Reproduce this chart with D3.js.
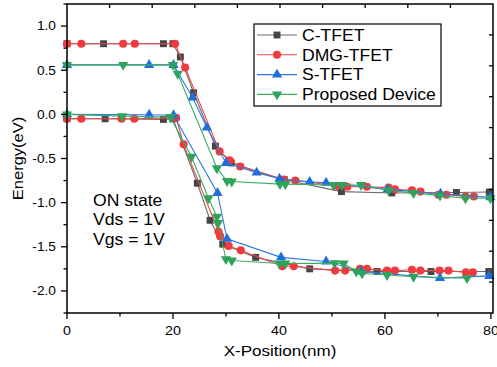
<!DOCTYPE html>
<html>
<head>
<meta charset="utf-8">
<script src="https://cdn.jsdelivr.net/npm/d3@7"></script>
<style>
  body { margin: 0; background: #fff; }
  text { font-family: "Liberation Sans", Arial, sans-serif; fill: #000; }
</style>
</head>
<body>
<script>
// band edges, [x (nm), energy (eV)]
const cTfetUpper = [[0,0.8],[6.9,0.8],[18.2,0.8],[20.0,0.8],[21.4,0.65],[23.9,0.245],[28.0,-0.36],[31.0,-0.55],[41.0,-0.74],[51.8,-0.875],[61.3,-0.89],[73.5,-0.885],[79.7,-0.88]];
const cTfetLower = [[0,-0.05],[7.2,-0.05],[18.2,-0.057],[20.0,-0.05],[24.6,-0.78],[27.0,-1.2],[29.4,-1.47],[35.6,-1.62],[45.8,-1.75],[58.5,-1.78],[68.7,-1.78],[79.6,-1.78]];

const dmgUpper = [[0,0.8],[2.7,0.8],[10.6,0.8],[12.8,0.8],[20.4,0.8],[22.3,0.53],[28.8,-0.42],[30.7,-0.52],[32.7,-0.59],[40.9,-0.74],[43.1,-0.75],[50.9,-0.81],[52.9,-0.82],[56.6,-0.82],[60.7,-0.83],[61.9,-0.85],[65.1,-0.86],[66.7,-0.875],[70.1,-0.91],[71.6,-0.91],[75.2,-0.93],[76.8,-0.93]];
const dmgLower = [[0,-0.05],[2.7,-0.05],[10.3,-0.05],[12.7,-0.05],[20.6,-0.04],[22.0,-0.34],[28.6,-1.33],[28.9,-1.38],[30.5,-1.49],[32.8,-1.54],[40.6,-1.72],[42.8,-1.72],[50.6,-1.77],[52.5,-1.77],[55.3,-1.75],[56.6,-1.75],[60.4,-1.77],[61.9,-1.77],[65.1,-1.76],[66.7,-1.77],[70.3,-1.77],[72.0,-1.77],[75.3,-1.79],[76.6,-1.79]];

const sTfetUpper = [[0,0.56],[15.5,0.56],[20.1,0.56],[23.7,0.19],[26.4,-0.15],[30.0,-0.55],[35.8,-0.66],[40.1,-0.73],[45.8,-0.765],[48.9,-0.775],[60.5,-0.85],[70.5,-0.9],[79.9,-0.94]];
const sTfetLower = [[0,0],[15.5,-0.005],[20.1,-0.01],[28.4,-0.89],[30.2,-1.41],[40.4,-1.62],[48.9,-1.667],[55.5,-1.78],[70.4,-1.855],[79.7,-1.83]];

const proposedUpper = [[0,0.56],[10.6,0.56],[20.0,0.56],[20.9,0.46],[28.3,-0.61],[30.2,-0.755],[31.1,-0.76],[40.2,-0.79],[41.2,-0.79],[50.3,-0.8],[51.9,-0.8],[55.5,-0.8],[60.7,-0.86],[65.4,-0.89],[70.4,-0.92],[75.2,-0.95],[79.9,-0.95]];
const proposedLower = [[0,0],[10.4,-0.02],[19.5,-0.03],[23.5,-0.48],[26.7,-0.95],[28.3,-1.16],[28.5,-1.23],[30.0,-1.64],[31.1,-1.656],[40.1,-1.69],[41.2,-1.69],[50.5,-1.685],[52.2,-1.69],[54.6,-1.78],[55.7,-1.8],[60.4,-1.82],[65.4,-1.84],[75.5,-1.855]];

const seriesNames = ["C-TFET", "DMG-TFET", "S-TFET", "Proposed Device"];
const xTicks = [0, 20, 40, 60, 80];
const yTicks = [1.0, 0.5, 0.0, -0.5, -1.0, -1.5, -2.0];
const noteLines = ["ON state", "Vds = 1V", "Vgs = 1V"];

const W = 497, H = 367;
const pL = 67, pR = 493, pT = 4, pB = 313;
const sx = 1.1; // text in the picture is a little wide

const x = d3.scaleLinear().domain([0, 80.4]).range([pL, pR]);
const y = d3.scaleLinear().domain([-2.25, 1.25]).range([pB, pT]);

const svg = d3.select("body").append("svg")
  .attr("width", W).attr("height", H);

// styles per series
const styles = [
  { data: [cTfetUpper, cTfetLower], line: "#6b6b6b", fill: "#454545", sym: d3.symbolSquare, size: 48, rot: 0 },
  { data: [dmgUpper, dmgLower], line: "#ee4a4a", fill: "#ef3b3f", sym: d3.symbolCircle, size: 52, rot: 0 },
  { data: [sTfetUpper, sTfetLower], line: "#2d78e0", fill: "#1e6fdc", sym: d3.symbolTriangle, size: 46, rot: 0 },
  { data: [proposedUpper, proposedLower], line: "#3cab66", fill: "#2ea35a", sym: d3.symbolTriangle, size: 46, rot: 180 }
];

const line = d3.line().x(d => x(d[0])).y(d => y(d[1]));

styles.forEach((s, i) => {
  const g = svg.append("g");
  s.data.forEach(arr => {
    g.append("path").datum(arr)
      .attr("d", line)
      .attr("fill", "none")
      .attr("stroke", s.line)
      .attr("stroke-width", 1.1);
    g.selectAll(null).data(arr).enter().append("path")
      .attr("d", d3.symbol().type(s.sym).size(s.size))
      .attr("transform", d => `translate(${x(d[0])},${y(d[1])}) rotate(${s.rot})`)
      .attr("fill", s.fill);
  });
});

// frame
svg.append("rect")
  .attr("x", pL).attr("y", pT)
  .attr("width", pR - pL).attr("height", pB - pT)
  .attr("fill", "none").attr("stroke", "#000").attr("stroke-width", 1.5);

// bottom axis
const xAxis = svg.append("g").attr("transform", `translate(0,${pB})`);
d3.range(0, 81, 10).forEach(v => {
  const major = v % 20 === 0;
  xAxis.append("line")
    .attr("x1", x(v)).attr("x2", x(v))
    .attr("y1", 0).attr("y2", major ? 6 : 3.5)
    .attr("stroke", "#000").attr("stroke-width", 1.3);
});
xAxis.selectAll("text").data(xTicks).enter().append("text")
  .attr("transform", d => `translate(${x(d)},22) scale(${sx},1)`)
  .attr("text-anchor", "middle")
  .attr("font-size", 13)
  .text(d => d);

// left axis
const yAxis = svg.append("g").attr("transform", `translate(${pL},0)`);
d3.range(-2.25, 1.26, 0.25).forEach(v => {
  const major = Math.abs(v * 2 - Math.round(v * 2)) < 1e-6;
  yAxis.append("line")
    .attr("x1", major ? -6 : -3.5).attr("x2", 0)
    .attr("y1", y(v)).attr("y2", y(v))
    .attr("stroke", "#000").attr("stroke-width", 1.3);
});
yAxis.selectAll("text").data(yTicks).enter().append("text")
  .attr("transform", d => `translate(-11,${y(d)}) scale(${sx},1)`)
  .attr("dy", "0.35em")
  .attr("text-anchor", "end")
  .attr("font-size", 12.5)
  .text(d => d3.format(".1f")(d).replace("−", "-"));

// top and right inward ticks
for (let k = 1; k < 10; k++) {
  const px = pL + (pR - pL) * k / 10;
  svg.append("line").attr("x1", px).attr("x2", px)
    .attr("y1", pT).attr("y2", pT + 4)
    .attr("stroke", "#000").attr("stroke-width", 1.3);
  const py = pT + (pB - pT) * k / 10;
  svg.append("line").attr("x1", pR - 4).attr("x2", pR)
    .attr("y1", py).attr("y2", py)
    .attr("stroke", "#000").attr("stroke-width", 1.3);
}

// axis titles
svg.append("text")
  .attr("transform", `translate(${(pL + pR) / 2},356) scale(${sx},1)`)
  .attr("text-anchor", "middle")
  .attr("font-size", 15.5)
  .text("X-Position(nm)");

svg.append("text")
  .attr("transform", `translate(23,${(pT + pB) / 2}) rotate(-90) scale(${sx},1)`)
  .attr("text-anchor", "middle")
  .attr("font-size", 15)
  .text("Energy(eV)");

// annotation
svg.append("g").selectAll("text").data(noteLines).enter().append("text")
  .attr("transform", (d, i) => `translate(93,${205.5 + i * 19.7}) scale(${sx},1)`)
  .attr("font-size", 16)
  .text(d => d);

// legend
const lg = svg.append("g");
lg.append("rect")
  .attr("x", 254).attr("y", 24).attr("width", 187).attr("height", 82)
  .attr("fill", "#fff").attr("stroke", "#000").attr("stroke-width", 1.2);
seriesNames.forEach((name, i) => {
  const s = styles[i];
  const cy = 35 + i * 19.8;
  lg.append("line").attr("x1", 257).attr("x2", 297)
    .attr("y1", cy).attr("y2", cy)
    .attr("stroke", s.line).attr("stroke-width", 1.1);
  lg.append("path")
    .attr("d", d3.symbol().type(s.sym).size(s.size))
    .attr("transform", `translate(277,${cy}) rotate(${s.rot})`)
    .attr("fill", s.fill);
  lg.append("text")
    .attr("transform", `translate(302,${cy}) scale(${sx},1)`)
    .attr("dy", "0.36em")
    .attr("font-size", 16)
    .text(name);
});
</script>
</body>
</html>
